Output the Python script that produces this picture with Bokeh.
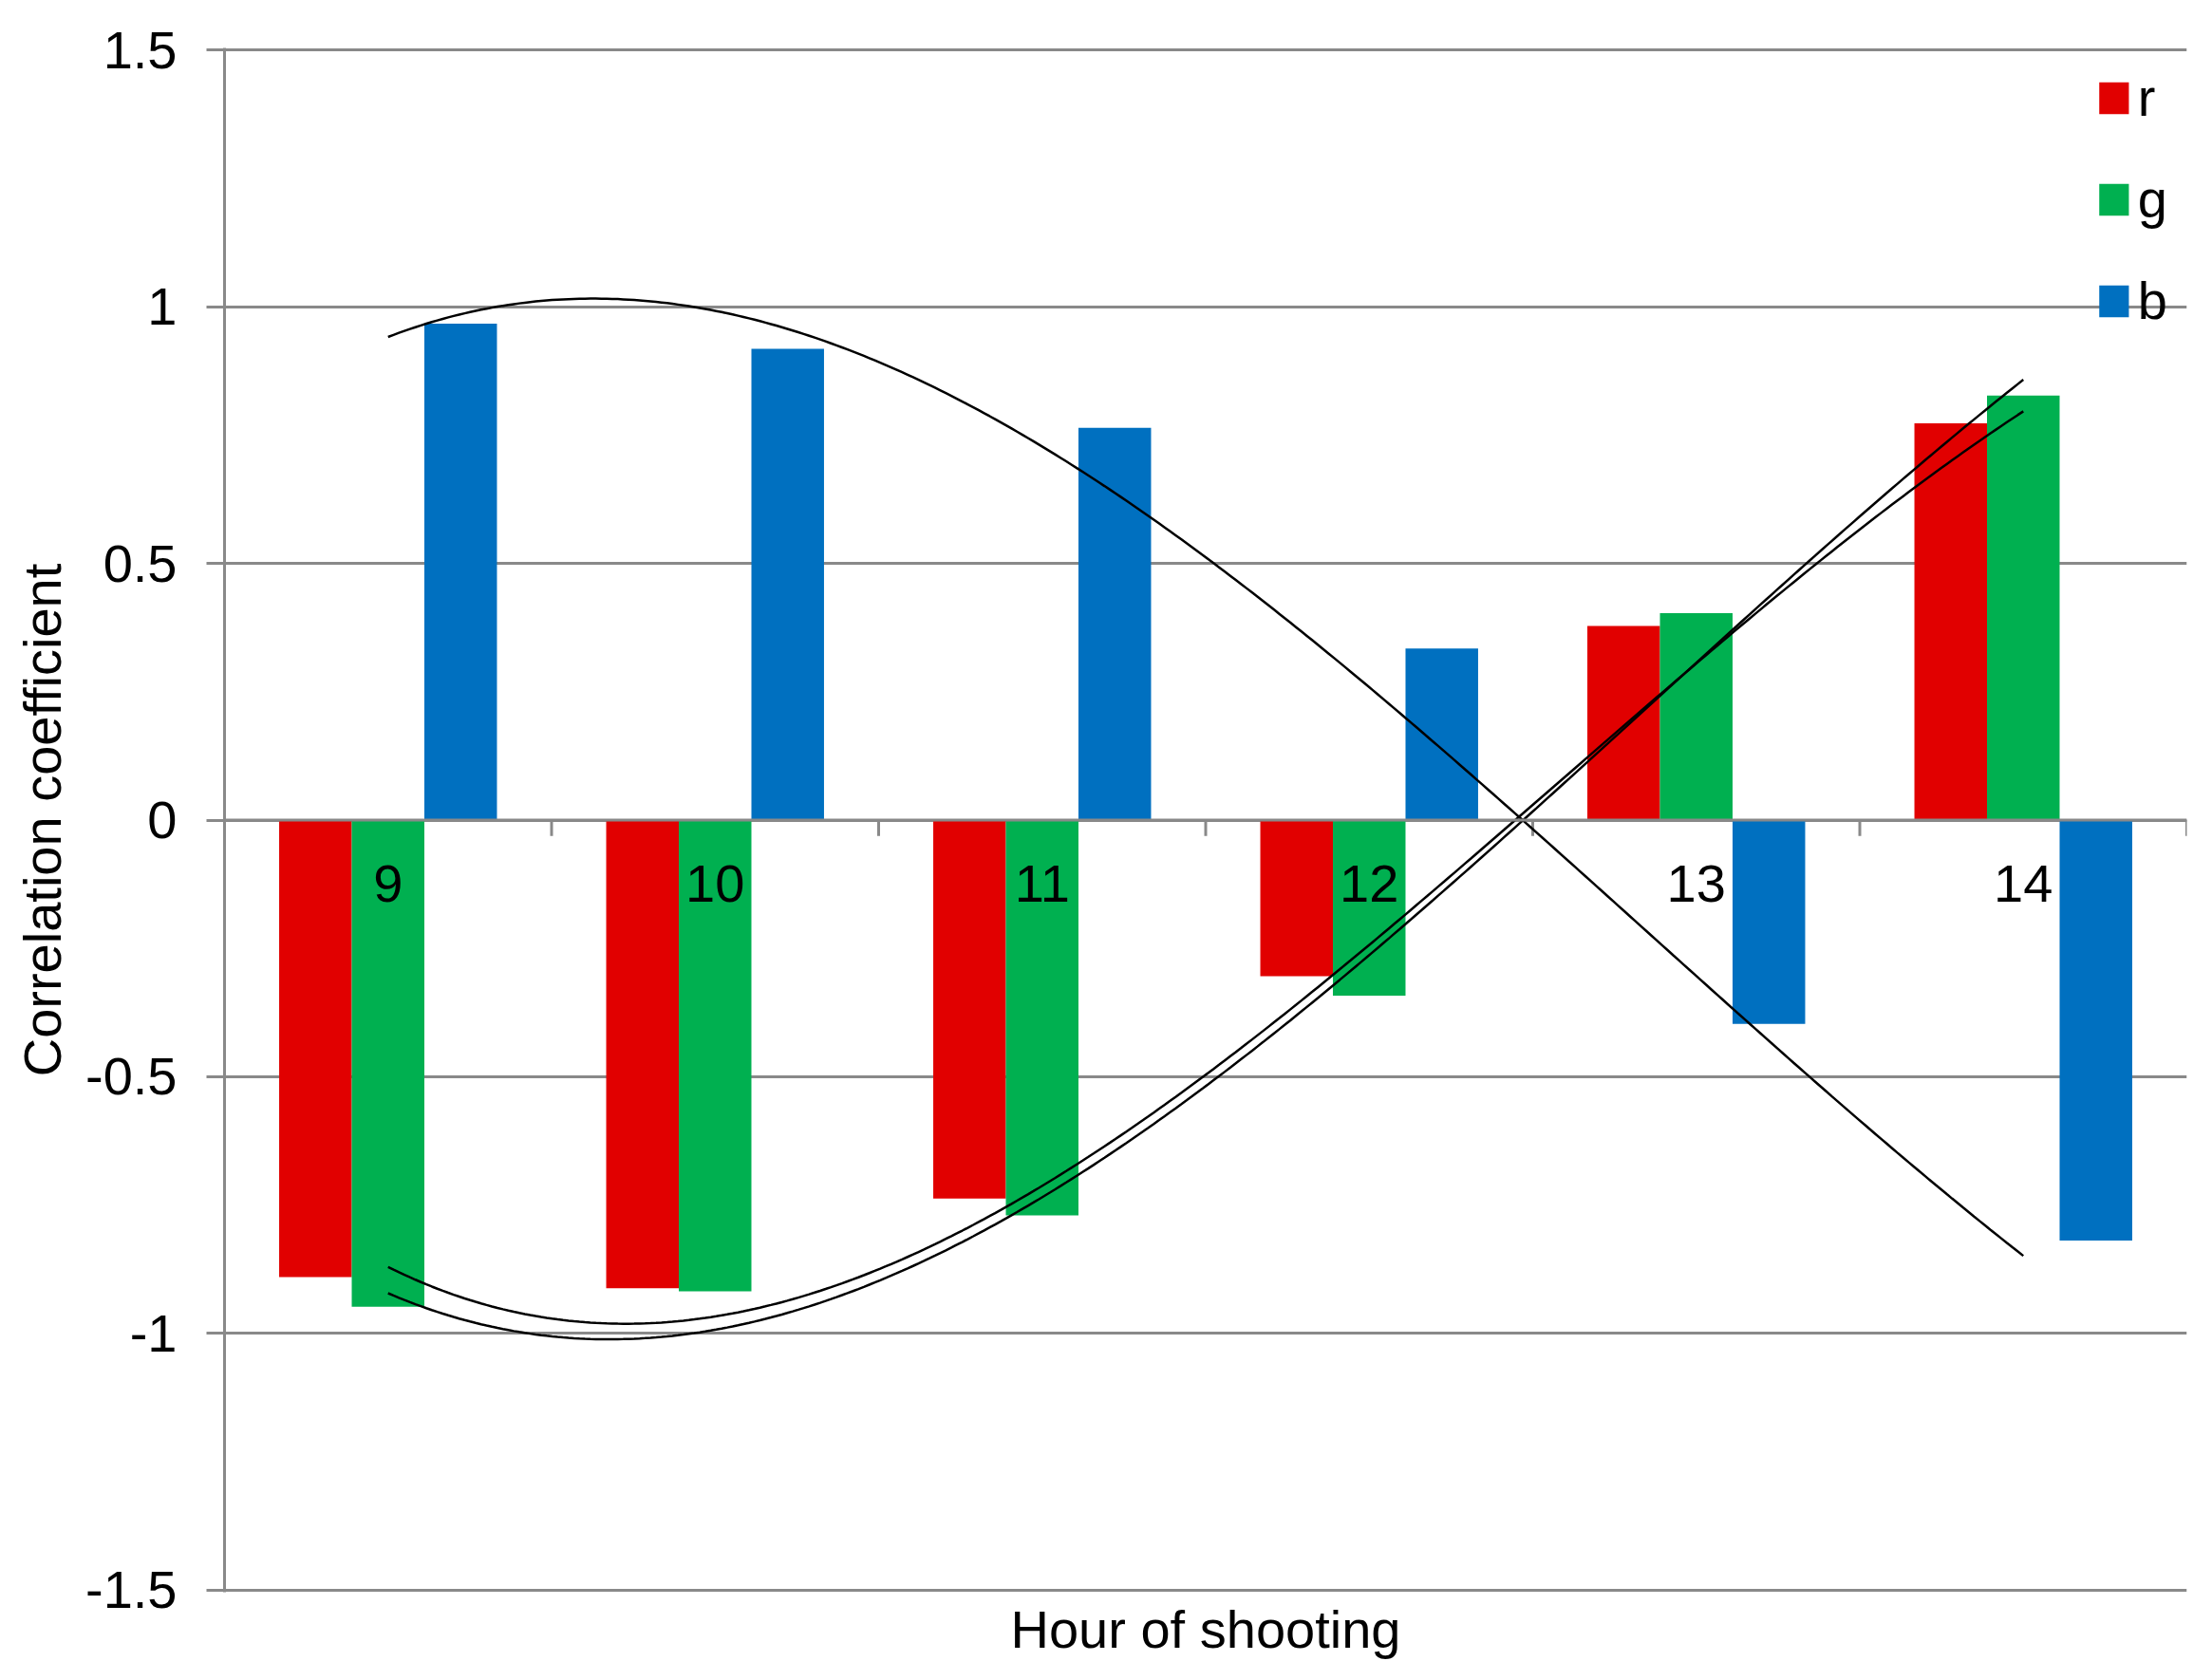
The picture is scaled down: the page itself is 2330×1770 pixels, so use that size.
import numpy as np
from bokeh.plotting import figure
from bokeh.models import (FactorRange, Range1d, CategoricalAxis, FixedTicker,
                          ColumnDataSource, Span)
from bokeh.transform import dodge
from bokeh.core.properties import value
from bokeh.embed import file_html
from bokeh.resources import INLINE

# ---------------- data ----------------
hours = ["9", "10", "11", "12", "13", "14"]
r_vals = [-0.890, -0.912, -0.737, -0.304, 0.378, 0.773]
g_vals = [-0.948, -0.918, -0.770, -0.342, 0.403, 0.827]
b_vals = [0.967, 0.918, 0.764, 0.334, -0.397, -0.819]
series_names = ["r", "g", "b"]
y_ticks = [-1.5, -1.0, -0.5, 0.0, 0.5, 1.0, 1.5]
y_tick_labels = ["-1.5", "-1", "-0.5", "0", "0.5", "1", "1.5"]
x_title = "Hour of shooting"
y_title = "Correlation coefficient"

# ---------------- style ----------------
colors = ["#E10000", "#00B050", "#0070C0"]
FONT = "Liberation Sans"
FS = "56px"
GRID = "#898989"
BAR_W = 0.222
offsets = [-BAR_W, 0.0, BAR_W]
Y_PAD = 0.004

p = figure(width=2322, height=1762,
           x_range=FactorRange(factors=hours),
           y_range=Range1d(y_ticks[0] - Y_PAD, y_ticks[-1] + Y_PAD),
           output_backend="svg", toolbar_location=None,
           x_axis_location=None,
           min_border_left=236, min_border_right=19,
           min_border_top=50, min_border_bottom=85,
           outline_line_color=None)
p.background_fill_color = "white"
p.border_fill_color = "white"

# y axis
yax = p.yaxis[0]
yax.ticker = FixedTicker(ticks=y_ticks)
yax.major_label_overrides = dict(zip(y_ticks, y_tick_labels))
yax.axis_line_color = GRID
yax.axis_line_width = 3
yax.major_tick_line_color = GRID
yax.major_tick_line_width = 3
yax.major_tick_out = 19
yax.major_tick_in = 0
yax.minor_tick_line_color = None
yax.major_label_standoff = 31
yax.major_label_text_font = FONT
yax.major_label_text_font_size = FS
yax.major_label_text_color = "black"
yax.axis_label = y_title
yax.axis_label_text_font = FONT
yax.axis_label_text_font_size = FS
yax.axis_label_text_font_style = "normal"
yax.axis_label_text_color = "black"
yax.axis_label_standoff = 11

p.xgrid.visible = False
p.ygrid.ticker = FixedTicker(ticks=y_ticks)
p.ygrid.grid_line_color = GRID
p.ygrid.grid_line_width = 3

# bottom axis carrying only the x title (no ticks, no tick labels)
xax = CategoricalAxis(ticker=FixedTicker(ticks=[]),
                      axis_label=x_title, axis_line_color=None,
                      major_tick_line_color=None, minor_tick_line_color=None,
                      major_tick_out=0, major_tick_in=0,
                      major_label_standoff=0, axis_label_standoff=7,
                      axis_label_text_font=FONT, axis_label_text_font_size=FS,
                      axis_label_text_font_style="normal",
                      axis_label_text_color="black")
p.add_layout(xax, "below")

# bars
src = ColumnDataSource(dict(hours=hours, r=r_vals, g=g_vals, b=b_vals))
for name, col, off in zip(series_names, colors, offsets):
    p.vbar(x=dodge("hours", off, range=p.x_range), top=name, bottom=0,
           width=BAR_W, source=src, fill_color=col, line_color=None,
           legend_label=name)

# category axis at y = 0: line, ticks between categories, labels
p.add_layout(Span(location=0, dimension="width", line_color=GRID,
                  line_width=3, level="overlay"))
bounds = list(range(1, len(hours) + 1))
p.segment(x0=bounds, x1=bounds, y0=0, y1=-0.031, line_color=GRID,
          line_width=3)
p.text(x="hours", y=0, text="hours", source=src, text_align="center",
       text_baseline="alphabetic", y_offset=67,
       text_font=value(FONT), text_font_size=FS, text_color="black")

# cubic polynomial trendlines
idx = np.arange(1, len(hours) + 1)
xs = np.linspace(1, len(hours), 300)
for vals in (r_vals, g_vals, b_vals):
    coef = np.polyfit(idx, vals, 3)
    p.line(xs - 0.5, np.polyval(coef, xs), line_color="black", line_width=2.5)

# legend
lg = p.legend[0]
lg.location = "top_right"
lg.border_line_color = None
lg.background_fill_alpha = 0
lg.label_text_font = FONT
lg.label_text_font_size = FS
lg.label_text_color = "black"
lg.glyph_width = 39
lg.glyph_height = 42
lg.label_standoff = 6
lg.spacing = 42
lg.padding = 34
lg.margin = 20

open("out.html", "w").write(file_html(p, INLINE))
